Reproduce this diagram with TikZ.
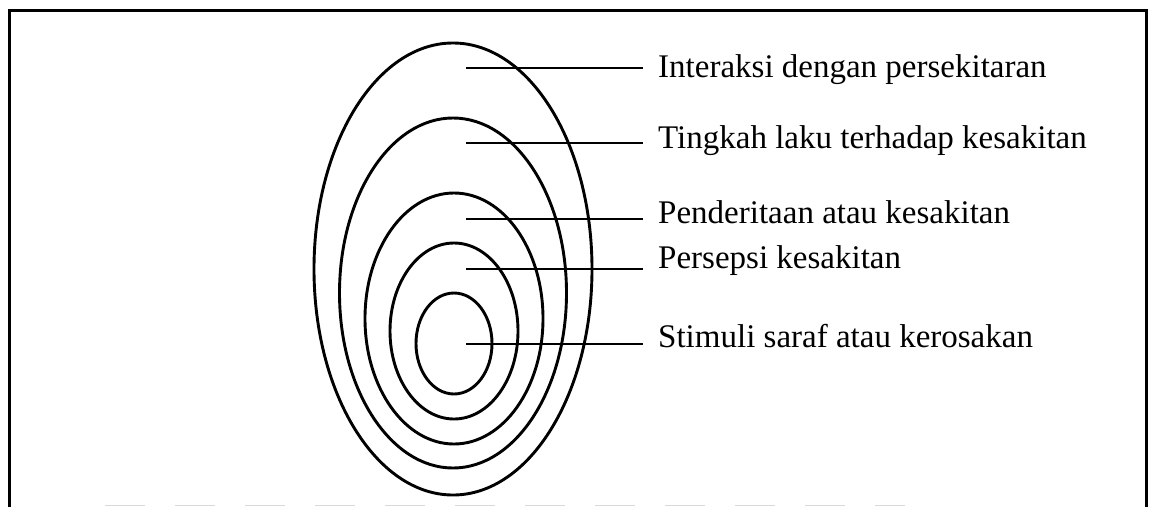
\documentclass[tikz,border=0pt]{standalone}
\usepackage{fontspec}
\setmainfont{Liberation Serif}
\begin{document}
\begin{tikzpicture}[x=1pt,y=-1pt,
  ring/.style={line width=2.9pt},
  leader/.style={line width=2.6pt},
  lbl/.style={anchor=base west,inner sep=0pt,font=\fontsize{33}{40}\selectfont}]
\useasboundingbox (0,0) rectangle (1154,507);
% frame
\draw[line width=2.2pt] (9.5,507) -- (9.5,10.5) -- (1146.5,10.5) -- (1146.5,507);
\draw[gray!30,line width=1.5pt,dash pattern=on 40pt off 30pt] (105,505.5) -- (905,505.5);
% rings
\draw[ring] (453,269) ellipse [x radius=139pt, y radius=226pt];
\draw[ring] (453,293) ellipse [x radius=113.5pt, y radius=175pt];
\draw[ring] (454,318.5) ellipse [x radius=89pt, y radius=125.5pt];
\draw[ring] (454,331) ellipse [x radius=64pt, y radius=88pt];
\draw[ring] (454,343.5) ellipse [x radius=38pt, y radius=50.5pt];
% leader start / end points
\coordinate (s1) at (466,68);  \coordinate (e1) at (643,68);
\coordinate (s2) at (466,143); \coordinate (e2) at (643,143);
\coordinate (s3) at (466,219); \coordinate (e3) at (643,219);
\coordinate (s4) at (466,269); \coordinate (e4) at (643,269);
\coordinate (s5) at (466,344); \coordinate (e5) at (643,344);
% labels
\node[lbl] (t1) at (658,77)  {Interaksi dengan persekitaran};
\node[lbl] (t2) at (658,148) {Tingkah laku terhadap kesakitan};
\node[lbl] (t3) at (658,223) {Penderitaan atau kesakitan};
\node[lbl] (t4) at (658,268) {Persepsi kesakitan};
\node[lbl] (t5) at (658,347) {Stimuli saraf atau kerosakan};
% leaders
\draw[leader] (s1) -- (e1);
\draw[leader] (s2) -- (e2);
\draw[leader] (s3) -- (e3);
\draw[leader] (s4) -- (e4);
\draw[leader] (s5) -- (e5);
\end{tikzpicture}
\end{document}
